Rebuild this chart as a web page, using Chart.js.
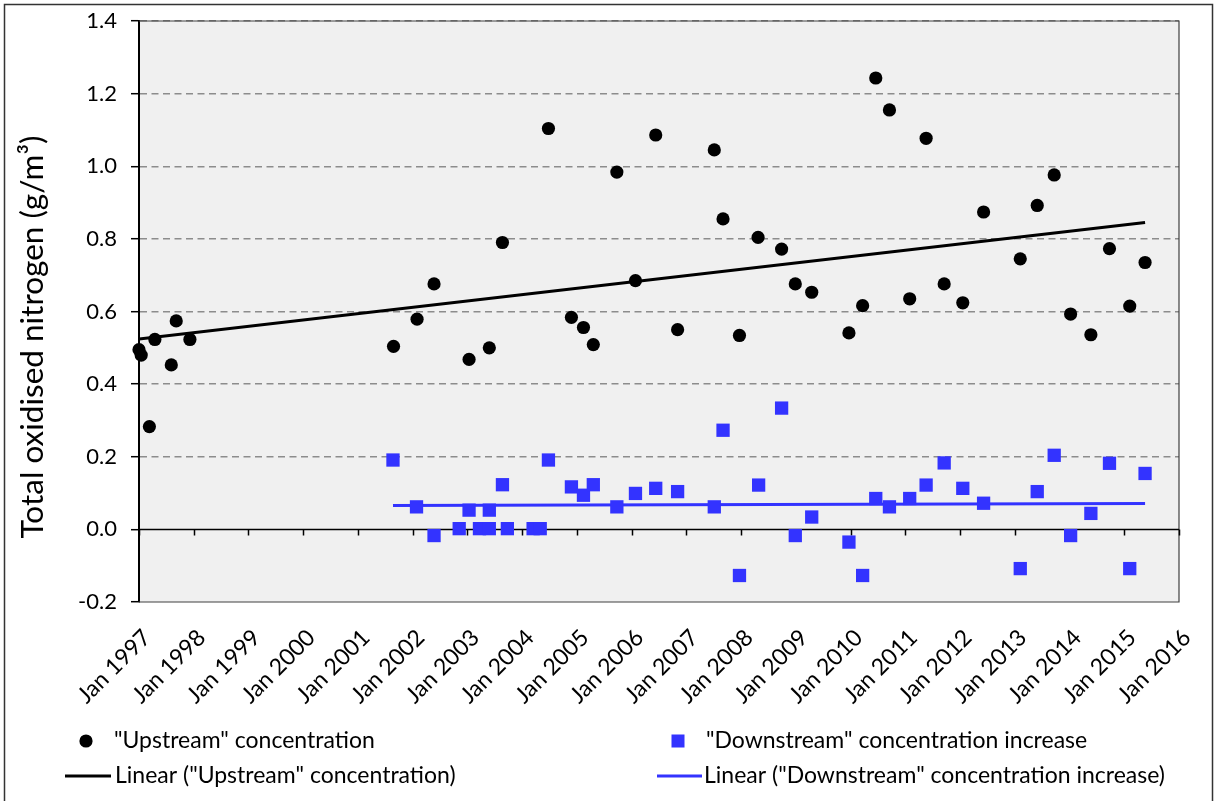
<!DOCTYPE html>
<html><head><meta charset="utf-8">
<script src="https://cdn.jsdelivr.net/npm/chart.js@4/dist/chart.umd.min.js"></script>
<style>html,body{margin:0;padding:0;background:#fff}#wrap{position:relative;width:1214px;height:801px}canvas{display:block}</style>
</head><body><div id="wrap"><canvas id="c" width="1214" height="801"></canvas></div>
<script>
// ---- data (dates as decimal years) ----
const upstreamDates = [1997.00,1997.04,1997.19,1997.29,1997.59,1997.68,1997.93,2001.65,2002.08,2002.39,2003.03,2003.40,2003.64,2004.48,2004.90,2005.12,2005.30,2005.73,2006.07,2006.44,2006.84,2007.51,2007.67,2007.97,2008.31,2008.74,2008.99,2009.29,2009.97,2010.22,2010.46,2010.71,2011.08,2011.38,2011.71,2012.05,2012.43,2013.10,2013.41,2013.72,2014.02,2014.39,2014.73,2015.10,2015.38];
const upstreamValues = [0.495,0.480,0.283,0.523,0.453,0.574,0.523,0.504,0.579,0.676,0.468,0.500,0.790,1.104,0.584,0.556,0.509,0.984,0.685,1.086,0.550,1.045,0.855,0.534,0.804,0.772,0.676,0.653,0.541,0.616,1.243,1.155,0.635,1.077,0.676,0.624,0.874,0.745,0.892,0.976,0.593,0.536,0.773,0.615,0.735];
const downstreamDates = [2001.64,2002.07,2002.39,2002.85,2003.03,2003.22,2003.40,2003.40,2003.64,2003.73,2004.20,2004.33,2004.48,2004.90,2005.12,2005.30,2005.73,2006.07,2006.44,2006.84,2007.51,2007.67,2007.97,2008.32,2008.74,2008.99,2009.29,2009.97,2010.22,2010.46,2010.71,2011.08,2011.38,2011.71,2012.05,2012.43,2013.10,2013.41,2013.72,2014.02,2014.39,2014.73,2015.10,2015.38];
const downstreamValues = [0.191,0.062,-0.017,0.002,0.053,0.002,0.002,0.053,0.123,0.002,0.002,0.002,0.191,0.117,0.094,0.123,0.062,0.099,0.113,0.104,0.062,0.273,-0.127,0.122,0.334,-0.017,0.034,-0.035,-0.127,0.085,0.062,0.085,0.122,0.183,0.113,0.072,-0.108,0.104,0.204,-0.017,0.044,0.182,-0.108,0.154];
const upTrendDates = [1997.00, 2015.38];
const upTrendValues = [0.524, 0.845];
const downTrendDates = [2001.64, 2015.38];
const downTrendValues = [0.066, 0.071];
const xTickYears = [1997,1998,1999,2000,2001,2002,2003,2004,2005,2006,2007,2008,2009,2010,2011,2012,2013,2014,2015,2016];
const yTickValues = [-0.2,0,0.2,0.4,0.6,0.8,1.0,1.2,1.4];
const seriesLabels = ['"Upstream" concentration','"Downstream" concentration increase','Linear ("Upstream" concentration)','Linear ("Downstream" concentration increase)'];
const yAxisTitle = 'Total oxidised nitrogen (g/m³)';

const FONT = 'Lato';
const BLUE = '#3333ff';
const pts = (xs, ys) => xs.map((x, i) => ({x: x, y: ys[i]}));

const decorPlugin = {
  id: 'decor',
  beforeDraw(chart) {
    const {ctx, chartArea: a} = chart;
    ctx.save();
    ctx.fillStyle = '#ffffff';
    ctx.fillRect(0, 0, chart.width, chart.height);
    ctx.fillStyle = '#f0f0f0';
    ctx.fillRect(a.left, a.top, a.right - a.left, a.bottom - a.top);
    ctx.strokeStyle = '#333';
    ctx.lineWidth = 1.5;
    ctx.strokeRect(4.5, 4.5, chart.width - 6, chart.height - 3);
    ctx.restore();
  },
  beforeDatasetsDraw(chart) {
    const {ctx, chartArea: a, scales: {x, y}} = chart;
    ctx.save();
    ctx.strokeStyle = '#404040';
    ctx.lineWidth = 1.2;
    ctx.beginPath();
    ctx.moveTo(a.left, a.top); ctx.lineTo(a.right, a.top);
    ctx.lineTo(a.right, a.bottom); ctx.lineTo(a.left, a.bottom);
    ctx.stroke();
    const y0 = Math.round(y.getPixelForValue(0)) + 0.5;
    ctx.strokeStyle = '#000';
    ctx.lineWidth = 1.5;
    ctx.beginPath();
    ctx.moveTo(a.left, y0); ctx.lineTo(a.right, y0);
    xTickYears.forEach(v => {
      const px = Math.round(x.getPixelForValue(v)) + 0.5;
      ctx.moveTo(px, y0); ctx.lineTo(px, y0 + 6);
    });
    ctx.stroke();
    ctx.restore();
  },
  afterDraw(chart) {
    const {ctx} = chart;
    ctx.save();
    ctx.translate(33, 337);
    ctx.rotate(-Math.PI / 2);
    ctx.fillStyle = '#000';
    ctx.font = '31.5px ' + FONT;
    ctx.textAlign = 'center';
    ctx.textBaseline = 'middle';
    ctx.fillText(yAxisTitle, 0, 0);
    ctx.restore();
    const ds = chart.data.datasets;
    ctx.save();
    ctx.font = '23px ' + FONT;
    ctx.fillStyle = '#000';
    ctx.textBaseline = 'middle';
    ctx.textAlign = 'left';
    const rows = [741, 776];
    ctx.beginPath(); ctx.arc(86, rows[0], 6.6, 0, Math.PI * 2); ctx.fillStyle = ds[0].backgroundColor; ctx.fill();
    ctx.fillStyle = '#000'; ctx.fillText(ds[0].label, 114, rows[0]);
    ctx.fillStyle = ds[1].backgroundColor; ctx.fillRect(678 - 6.5, rows[0] - 6.5, 13, 13);
    ctx.fillStyle = '#000'; ctx.fillText(ds[1].label, 706, rows[0]);
    ctx.lineWidth = 3;
    ctx.strokeStyle = ds[2].borderColor;
    ctx.beginPath(); ctx.moveTo(65, rows[1]); ctx.lineTo(111, rows[1]); ctx.stroke();
    ctx.fillText(ds[2].label, 115, rows[1]);
    ctx.strokeStyle = ds[3].borderColor;
    ctx.beginPath(); ctx.moveTo(657, rows[1]); ctx.lineTo(702, rows[1]); ctx.stroke();
    ctx.fillText(ds[3].label, 704, rows[1]);
    ctx.restore();
  }
};

function build() {
  new Chart(document.getElementById('c'), {
    type: 'scatter',
    data: {
      datasets: [
        {label: seriesLabels[0], data: pts(upstreamDates, upstreamValues), pointStyle: 'circle', pointRadius: 6.6, backgroundColor: '#000000', borderWidth: 0, order: 0, clip: false},
        {label: seriesLabels[1], data: pts(downstreamDates, downstreamValues), pointStyle: 'rect', pointRadius: 9.4, backgroundColor: BLUE, borderWidth: 0, order: 0, clip: false},
        {type: 'line', label: seriesLabels[2], data: pts(upTrendDates, upTrendValues), borderColor: '#000000', borderWidth: 3, pointRadius: 0, fill: false, order: 1},
        {type: 'line', label: seriesLabels[3], data: pts(downTrendDates, downTrendValues), borderColor: BLUE, borderWidth: 3, pointRadius: 0, fill: false, order: 1}
      ]
    },
    options: {
      responsive: false,
      animation: false,
      devicePixelRatio: 1,
      layout: {padding: {left: 0, right: 35, top: 21, bottom: 0}},
      plugins: {legend: {display: false}, tooltip: {enabled: false}},
      scales: {
        x: {
          type: 'linear', min: 1997, max: 2016,
          afterBuildTicks: s => { s.ticks = xTickYears.map(v => ({value: v})); },
          afterFit: s => { s.height = 199; s.paddingLeft = 0; s.paddingRight = 0; },
          ticks: {autoSkip: false, minRotation: 45, maxRotation: 45, padding: 22, labelOffset: 8, color: '#000',
                  font: {family: FONT, size: 23}, callback: v => 'Jan ' + v},
          grid: {display: false, drawTicks: false},
          border: {display: false}
        },
        y: {
          min: -0.2, max: 1.4,
          afterBuildTicks: s => { s.ticks = yTickValues.map(v => ({value: v})); },
          afterFit: s => { s.width = 139; s.paddingTop = 0; s.paddingBottom = 0; },
          ticks: {padding: 14, color: '#000', font: {family: FONT, size: 22}, callback: v => v.toFixed(1)},
          grid: {
            color: c => (Math.abs(c.tick.value) < 1e-9 || c.tick.value <= -0.2 + 1e-9) ? 'rgba(0,0,0,0)' : '#8c8c8c',
            lineWidth: 1.4, tickLength: 8, tickColor: '#000', tickWidth: 1.5, tickBorderDash: []
          },
          border: {display: true, color: '#000', width: 2, dash: [7, 4.5]}
        }
      }
    },
    plugins: [decorPlugin]
  });
}
if (document.fonts && document.fonts.load) {
  Promise.all([document.fonts.load('22px Lato'), document.fonts.load('23px Lato')]).then(build, build);
} else { build(); }
</script>
</body></html>
